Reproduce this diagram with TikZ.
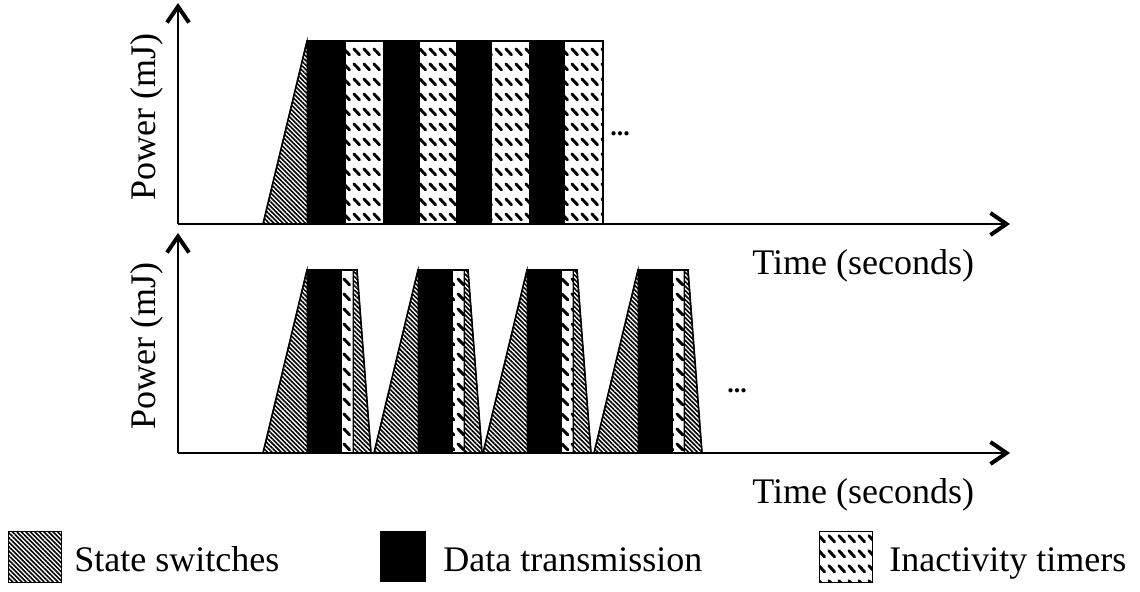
\documentclass[tikz,border=0pt]{standalone}
\usepackage{fontspec}
\setmainfont{Liberation Serif}
\usetikzlibrary{arrows.meta,patterns,patterns.meta}

\pgfdeclarepatternformonly{inact}{\pgfpointorigin}{\pgfqpoint{4.75pt}{7.65pt}}{\pgfqpoint{4.75pt}{7.65pt}}{%
  \pgfsetlinewidth{1.5pt}%
  \pgfsetroundcap
  \pgfpathmoveto{\pgfqpoint{1.0pt}{5.8pt}}%
  \pgfpathlineto{\pgfqpoint{3.9pt}{2.7pt}}%
  \pgfusepath{stroke}%
}

\tikzset{
  axis/.style={line width=1pt, -{Straight Barb[length=8pt,width=11pt,line width=2pt]}},
  swfill/.style={pattern={Lines[angle=-45,distance=1.6pt,line width=0.8pt]}, draw=black, line width=0.5pt},
  dtfill/.style={fill=black, draw=black, line width=0.5pt},
  itfill/.style={pattern=inact, draw=black, line width=0.5pt},
  lbl/.style={font=\fontsize{18}{21}\selectfont, inner sep=0pt},
  dotlbl/.style={font=\fontsize{13}{15}\selectfont\bfseries, inner sep=0pt},
}

\begin{document}
\begin{tikzpicture}[x=0.5pt,y=-0.5pt]
\useasboundingbox (0,0) rectangle (1140,592);

% ---------- top chart ----------
\coordinate (o1) at (178,224);
\coordinate (y1) at (178,3);
\coordinate (x1) at (1010,224);

\fill[swfill] (263,224) -- (307,41) -- (307,224) -- cycle;
\foreach \a/\b in {307/345,383/419,456/491,529/564}
  \filldraw[dtfill] (\a,41) rectangle (\b,224);
\foreach \a/\b in {345/383,419/456,491/529,564/603}
  \filldraw[itfill] (\a,41) rectangle (\b,224);
\draw[line width=0.8pt] (263,224) -- (307,41) -- (603,41) -- (603,224);

\draw[axis] (o1) -- (y1);
\draw[axis] (o1) -- (x1);

\node[lbl, rotate=90, anchor=base] (p1) at (155,117) {Power (mJ)};
\node[lbl, anchor=base west] (t1) at (752,275) {Time (seconds)};
\node[dotlbl, anchor=base] (d1) at (620,136) {...};

% ---------- bottom chart ----------
\coordinate (o2) at (178,453);
\coordinate (y2) at (178,233);
\coordinate (x2) at (1010,453);

\foreach \L in {263,374,483,594}{
  \filldraw[swfill] (\L,453) -- (\L+44,270) -- (\L+44,453) -- cycle;
  \filldraw[dtfill] (\L+44,270) rectangle (\L+78,453);
  \filldraw[itfill] (\L+78,270) rectangle (\L+90,453);
  \filldraw[swfill] (\L+90,270) -- (\L+94,270) -- (\L+108,453) -- (\L+90,453) -- cycle;
  \draw[line width=0.8pt] (\L,453) -- (\L+44,270) -- (\L+94,270) -- (\L+108,453);
}

\draw[axis] (o2) -- (y2);
\draw[axis] (o2) -- (x2);

\node[lbl, rotate=90, anchor=base] (p2) at (155,346) {Power (mJ)};
\node[lbl, anchor=base west] (t2) at (752,504) {Time (seconds)};
\node[dotlbl, anchor=base] (d2) at (737,393) {...};

% ---------- legend ----------
\filldraw[swfill] (8,532) rectangle (61,583);
\node[lbl, anchor=base west] (l1) at (74,572) {State switches};
\filldraw[dtfill] (380,532) rectangle (425,582);
\node[lbl, anchor=base west] (l2) at (443,572) {Data transmission};
\filldraw[itfill] (819,532) rectangle (872,583);
\node[lbl, anchor=base west] (l3) at (889,572) {Inactivity timers};
\end{tikzpicture}
\end{document}
